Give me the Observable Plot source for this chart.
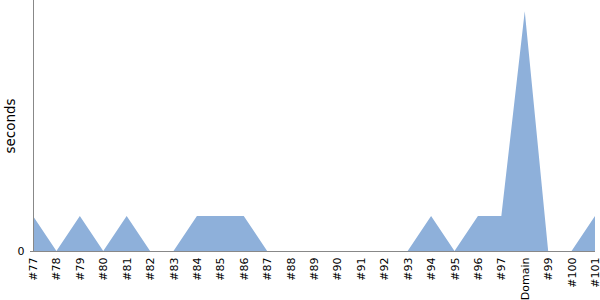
<!DOCTYPE html>
<html>
<head>
<meta charset="utf-8">
<script src="https://cdn.jsdelivr.net/npm/d3@7"></script>
<script src="https://cdn.jsdelivr.net/npm/@observablehq/plot@0.6"></script>
<style>
  html, body { margin: 0; padding: 0; background: #fff; font-family: 'DejaVu Sans', sans-serif; }
</style>
</head>
<body>
<div id="chart"></div>
<script>
const categories = ["#77","#78","#79","#80","#81","#82","#83","#84","#85","#86","#87","#88","#89","#90","#91","#92","#93","#94","#95","#96","#97","Domain","#99","#100","#101"];
const seconds = [1,0,1,0,1,0,0,1,1,1,0,0,0,0,0,0,0,1,0,1,1,6.85,0,0,1];
const yTicks = [0];

const data = categories.map((c, i) => ({category: c, seconds: seconds[i]}));

const chart = Plot.plot({
  width: 600,
  height: 300,
  marginLeft: 33,
  marginRight: 5,
  marginTop: 0,
  marginBottom: 49,
  style: {fontFamily: "'DejaVu Sans', sans-serif", fontSize: "11px", background: "#fff", color: "#000"},
  x: {type: "point", domain: categories, padding: 0, round: false},
  y: {domain: [0, 7.17]},
  marks: [
    Plot.areaY(data, {x: "category", y: "seconds", fill: "#8eb0da", curve: "linear"}),
    Plot.ruleY([0], {stroke: "#888"}),
    Plot.ruleX([categories[0]], {stroke: "#888"}),
    Plot.axisX({tickRotate: -90, tickSize: 0, tickPadding: 6, label: null, fontSize: 11}),
    Plot.axisY({ticks: yTicks, tickSize: 3, stroke: "#888", label: null, fontSize: 11}),
    Plot.axisY({ticks: [], label: "seconds", labelAnchor: "center", labelArrow: "none", labelOffset: 28, fontSize: 13.5})
  ]
});
document.getElementById("chart").appendChild(chart);
</script>
</body>
</html>
